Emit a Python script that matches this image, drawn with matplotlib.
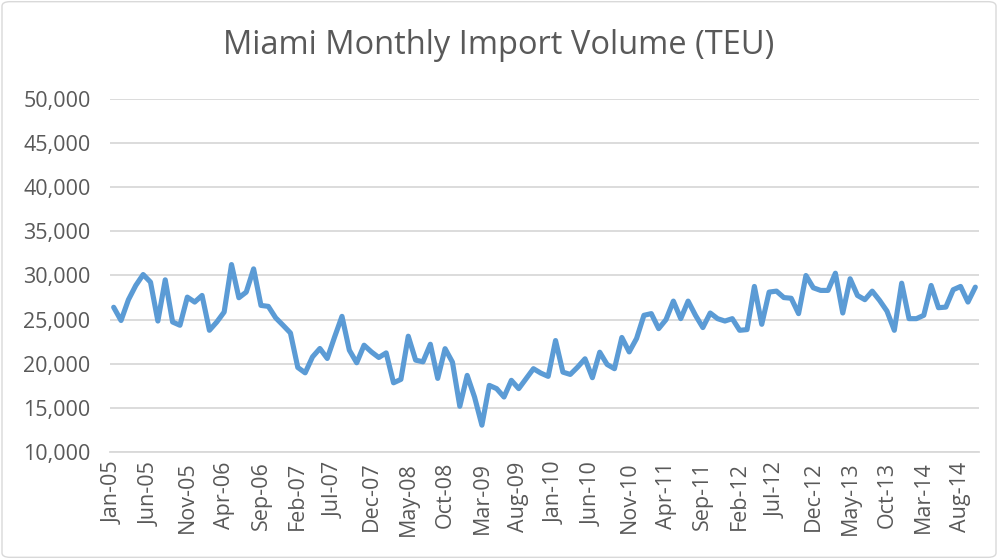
import matplotlib
matplotlib.use("Agg")
import matplotlib.pyplot as plt
from matplotlib.patches import FancyBboxPatch
import pandas as pd

# Monthly import volume (TEU), Jan-2005 .. Oct-2014
y2005 = [26400, 24900, 27250, 28870, 30110, 29250, 24840, 29510, 24730, 24360, 27550, 26990]
y2006 = [27740, 23790, 24730, 25860, 31240, 27480, 28120, 30750, 26610, 26500, 25200, 24360]
y2007 = [23490, 19580, 18970, 20780, 21730, 20600, 23040, 25370, 21540, 20110, 22100, 21340]
y2008 = [20710, 21230, 17840, 18230, 23120, 20410, 20220, 22210, 18340, 21710, 20180, 15180]
y2009 = [18680, 16230, 13040, 17550, 17180, 16230, 18120, 17180, 18310, 19440, 18940, 18570]
y2010 = [22630, 19050, 18790, 19620, 20560, 18420, 21310, 19920, 19440, 22980, 21340, 22860]
y2011 = [25490, 25680, 23980, 25000, 27100, 25110, 27100, 25490, 24100, 25750, 25110, 24840]
y2012 = [25110, 23790, 23870, 28760, 24470, 28120, 28230, 27500, 27420, 25680, 30000, 28610]
y2013 = [28310, 28310, 30260, 25750, 29630, 27740, 27260, 28230, 27180, 25970, 23790, 29130]
y2014 = [25110, 25110, 25490, 28870, 26350, 26420, 28390, 28760, 26990, 28680]

values = y2005 + y2006 + y2007 + y2008 + y2009 + y2010 + y2011 + y2012 + y2013 + y2014
months = [d.strftime("%b-%y") for d in pd.date_range("2005-01-01", periods=len(values), freq="MS")]

title = "Miami Monthly Import Volume (TEU)"
yticks = [10000, 15000, 20000, 25000, 30000, 35000, 40000, 45000, 50000]

plt.rcParams['font.family'] = ['Open Sans', 'DejaVu Sans']
text_color = "#595959"
grid_color = "#d9d9d9"
line_color = "#5B9BD5"

fig = plt.figure(figsize=(9.98, 5.59), dpi=100)
fig.patch.set_facecolor("white")
border = FancyBboxPatch((0.002, 0.003), 0.996, 0.994, boxstyle="round,pad=0,rounding_size=0.008",
                        transform=fig.transFigure, facecolor="none", edgecolor="#d9d9d9", linewidth=1.0)
fig.patches.append(border)

ax = fig.add_axes([110 / 998, 1 - 452 / 559, (979 - 110) / 998, (452 - 99) / 559])
x = list(range(len(values)))
ax.plot(x, values, color=line_color, linewidth=3.7, solid_joinstyle="round", solid_capstyle="round", zorder=3)

ax.set_ylim(10000, 50000)
ax.set_xlim(-0.5, len(values) - 0.5)
ax.set_yticks(yticks)
ax.set_yticklabels([f"{v:,}" for v in yticks])
ax.yaxis.grid(True, color=grid_color, linewidth=1.3)
ax.set_axisbelow(True)

tick_idx = list(range(0, len(values), 5))
ax.set_xticks(tick_idx)
ax.set_xticklabels([months[i] for i in tick_idx], rotation=90)

for s in ["top", "right", "left"]:
    ax.spines[s].set_visible(False)
ax.spines["bottom"].set_color(grid_color)
ax.spines["bottom"].set_linewidth(1.3)

ax.tick_params(axis="y", length=0, pad=14, labelsize=15.5, labelcolor=text_color)
ax.tick_params(axis="x", length=0, pad=7, labelsize=15.5, labelcolor=text_color)

fig.text(0.5, 1 - 46 / 559, title, ha="center", va="center", fontsize=23.5, color=text_color)

fig.savefig("out.png", dpi=100)
